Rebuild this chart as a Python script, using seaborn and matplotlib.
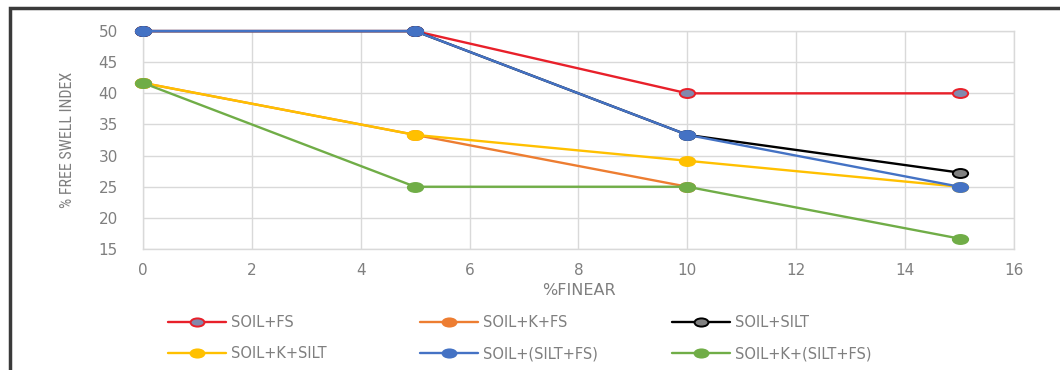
import matplotlib
matplotlib.use("Agg")
import matplotlib.pyplot as plt
from matplotlib.patches import Rectangle
from matplotlib.lines import Line2D
from matplotlib.path import Path
from matplotlib.transforms import Affine2D
from matplotlib import font_manager
import seaborn as sns
import pandas as pd
import numpy as np

finear = [0, 5, 10, 15]
soil_fs = [50, 50, 40, 40]
soil_k_fs = [41.67, 33.33, 25, np.nan]
soil_silt = [50, 50, 33.33, 27.27]
soil_k_silt = [41.67, 33.33, 29.17, 25]
soil_silt_fs = [50, 50, 33.33, 25]
soil_k_silt_fs = [41.67, 25, 25, 16.67]

series_names = ["SOIL+FS", "SOIL+K+FS", "SOIL+SILT", "SOIL+K+SILT",
                "SOIL+(SILT+FS)", "SOIL+K+(SILT+FS)"]
series_values = [soil_fs, soil_k_fs, soil_silt, soil_k_silt, soil_silt_fs, soil_k_silt_fs]
colors = ["#e8202a", "#ed7d31", "#000000", "#ffc000", "#4472c4", "#70ad47"]
marker_faces = ["#8289ad", "#ed7d31", "#808080", "#ffc000", "#4472c4", "#70ad47"]

rows = []
for name, vals in zip(series_names, series_values):
    for x, y in zip(finear, vals):
        rows.append({"series": name, "finear": x, "fsi": y})
df = pd.DataFrame(rows)

sns.set_theme(style="white")
plt.rcParams["font.family"] = ["DejaVu Sans"]

installed = {f.name for f in font_manager.fontManager.ttflist}
narrow = None
for cand in ["Liberation Sans Narrow", "DejaVu Sans Condensed", "Roboto Condensed",
             "Open Sans Condensed"]:
    if cand in installed:
        narrow = cand
        break

# wide elliptical marker (the reference image is horizontally stretched)
circ = Path.unit_circle()
ellipse = Path(Affine2D().scale(1.7, 1.0).transform(circ.vertices), circ.codes)

fig = plt.figure(figsize=(10.6, 3.7), dpi=100)
ax = fig.add_axes([0.1349, 0.327, 0.8217, 0.589])

for name, c, mf in zip(series_names, colors, marker_faces):
    sub = df[df["series"] == name]
    sns.lineplot(data=sub, x="finear", y="fsi", ax=ax, color=c, lw=1.7,
                 marker=ellipse, markersize=11, markerfacecolor=mf,
                 markeredgecolor=c, markeredgewidth=1.4, legend=False,
                 clip_on=False, zorder=3)

ax.set_xlim(0, 16)
ax.set_ylim(15, 50)
ax.set_xticks(range(0, 17, 2))
ax.set_yticks(range(15, 51, 5))
ax.grid(True, color="#d9d9d9", lw=1)
ax.set_axisbelow(True)
for s in ax.spines.values():
    s.set_color("#d9d9d9")
    s.set_linewidth(1)
ax.tick_params(axis="both", colors="#7f7f7f", labelsize=11, length=0)
ax.tick_params(axis="y", pad=18)
ax.tick_params(axis="x", pad=10)
for lab in ax.get_xticklabels() + ax.get_yticklabels():
    lab.set_color("#7f7f7f")
ax.set_xlabel("%FINEAR", color="#7f7f7f", fontsize=11.5, labelpad=4)
if narrow:
    ax.set_ylabel("% FREE SWELL INDEX", color="#7f7f7f", fontsize=11.5,
                  family=[narrow, "DejaVu Sans"])
else:
    ax.set_ylabel("% FREE SWELL INDEX", color="#7f7f7f", fontsize=10.5,
                  family="DejaVu Sans", fontstretch="condensed")
ax.yaxis.set_label_coords(-0.078, 0.5)

handles = {}
for name, c, mf in zip(series_names, colors, marker_faces):
    handles[name] = Line2D([0], [0], color=c, lw=1.7, marker=ellipse, markersize=10,
                           markerfacecolor=mf, markeredgecolor=c, markeredgewidth=1.4)

columns = [["SOIL+FS", "SOIL+K+SILT"],
           ["SOIL+K+FS", "SOIL+(SILT+FS)"],
           ["SOIL+SILT", "SOIL+K+(SILT+FS)"]]
col_x = [168 / 1060, 420 / 1060, 672 / 1060]
for names, x0 in zip(columns, col_x):
    leg = fig.legend([handles[n] for n in names], names, ncol=1,
                     loc="upper left", bbox_to_anchor=(x0, 1 - 315 / 370),
                     frameon=False, fontsize=10.5, handlelength=4.0,
                     labelspacing=1.1, handletextpad=0.3,
                     borderpad=0, borderaxespad=0)
    for t in leg.get_texts():
        t.set_color("#7f7f7f")

fig.patches.append(Rectangle((0.0094, -0.2), 1.2, 1.178, transform=fig.transFigure,
                             fill=False, edgecolor="#3a3a3a", lw=2.5, zorder=10))

fig.savefig("out.png", dpi=100)
